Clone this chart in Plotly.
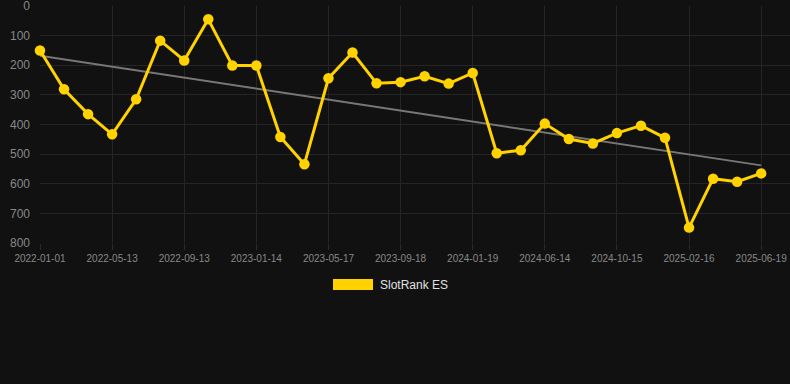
import plotly.graph_objects as go

dates = [
    "2022-01-01", "2022-02-14", "2022-03-30", "2022-05-13", "2022-06-23", "2022-08-03",
    "2022-09-13", "2022-10-24", "2022-12-04", "2023-01-14", "2023-02-24", "2023-04-06",
    "2023-05-17", "2023-06-27", "2023-08-07", "2023-09-18", "2023-10-29", "2023-12-09",
    "2024-01-19", "2024-03-07", "2024-04-26", "2024-06-14", "2024-07-25", "2024-09-04",
    "2024-10-15", "2024-11-25", "2025-01-05", "2025-02-16", "2025-03-29", "2025-05-09",
    "2025-06-19",
]
ranks = [
    150, 281, 365, 433, 315, 117, 184, 45, 201, 201, 442, 534, 244, 157, 261,
    257, 237, 262, 226, 497, 487, 397, 449, 464, 429, 404, 445, 748, 583, 593, 565,
]
trend_x = [dates[0], dates[-1]]
trend_y = [168, 538]
tick_labels = dates[::3]
y_ticks = [0, 100, 200, 300, 400, 500, 600, 700, 800]
series_name = "SlotRank ES"

gold = "#FFD200"
bg = "#111111"
grid = "#252525"
tick_color = "#888888"

fig = go.Figure()
fig.add_trace(go.Scatter(
    x=trend_x, y=trend_y, mode="lines",
    line=dict(color="#777777", width=2),
    showlegend=False, hoverinfo="skip",
))
fig.add_trace(go.Scatter(
    x=dates, y=ranks, mode="lines+markers", name=series_name,
    line=dict(color=gold, width=3),
    marker=dict(color=gold, size=10.5),
    showlegend=False, cliponaxis=False,
))

# legend drawn manually (rectangle swatch)
fig.add_shape(type="rect", xref="paper", yref="paper",
              x0=(333 - 40) / 750, x1=(373 - 40) / 750,
              y0=(243 - 290) / 237, y1=(243 - 279) / 237,
              fillcolor=gold, line=dict(width=0))
fig.add_annotation(xref="paper", yref="paper",
                   x=(378 - 40) / 750, y=(243 - 284.5) / 237,
                   text=series_name, showarrow=False,
                   xanchor="left", yanchor="middle",
                   font=dict(family="Liberation Sans, Arial, sans-serif", size=12, color="#e0e0e0"))

fig.update_layout(
    width=790, height=384,
    margin=dict(l=40, r=0, t=6, b=141),
    paper_bgcolor=bg, plot_bgcolor=bg,
    font=dict(family="Liberation Sans, Arial, sans-serif", color=tick_color),
    showlegend=False,
    xaxis=dict(
        type="category", categoryorder="array", categoryarray=dates,
        range=[0, 31.2],
        tickmode="array", tickvals=tick_labels, ticktext=tick_labels,
        tickfont=dict(size=10, color=tick_color),
        showgrid=True, gridcolor=grid, gridwidth=1,
        zeroline=False, showline=False,
        ticks="outside", ticklen=6, tickcolor="#2a2a2a",
        ticklabeloverflow="allow",
    ),
    yaxis=dict(
        range=[800, 0],
        tickmode="array", tickvals=y_ticks,
        tickfont=dict(size=12, color=tick_color),
        showgrid=True, gridcolor=grid, gridwidth=1,
        zeroline=False, showline=False,
        ticks="", ticklabelstandoff=9,
        ticklabeloverflow="allow",
    ),
)

fig.write_html(
    "out.html",
    config={"displayModeBar": False},
    post_script="document.body.style.margin='0';document.body.style.background='#111111';",
)
